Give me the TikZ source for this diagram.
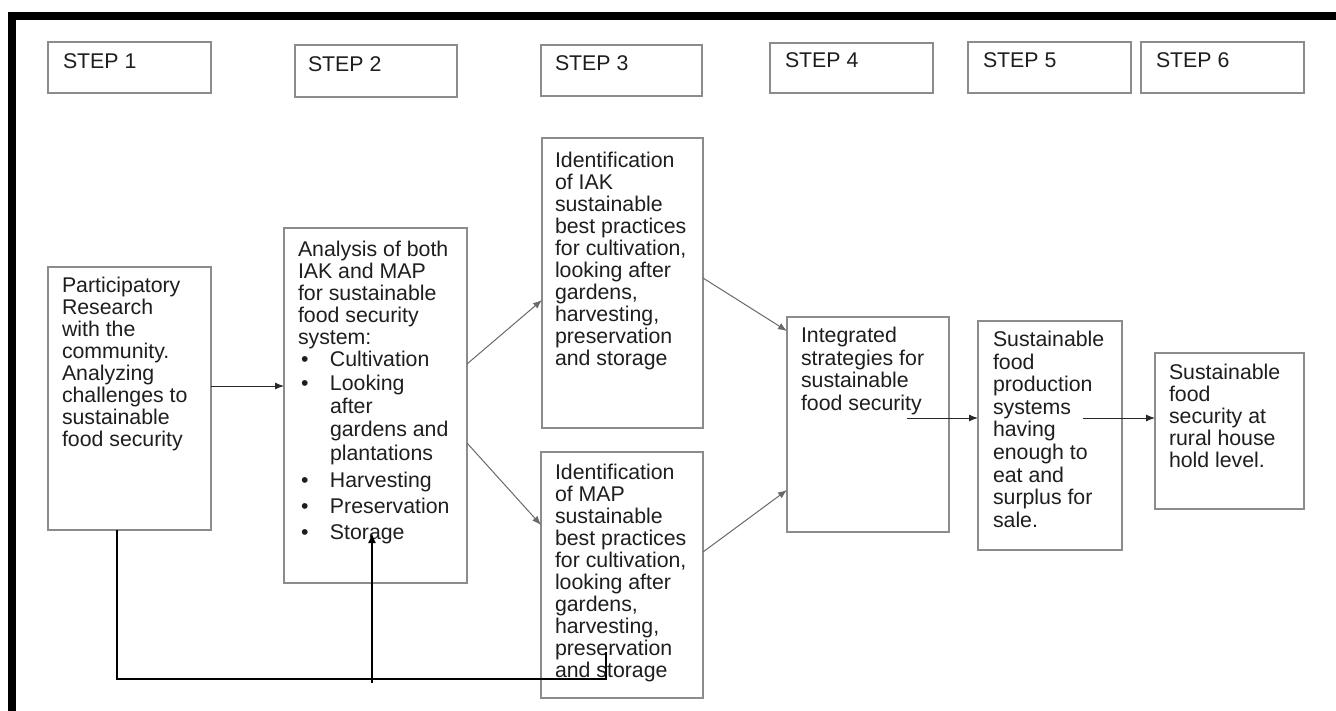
\documentclass[tikz,border=0pt]{standalone}
\usepackage{fontspec}
\setmainfont{Liberation Sans}
\usetikzlibrary{arrows.meta}
\definecolor{boxgray}{RGB}{140,140,140}
\definecolor{txtc}{RGB}{30,30,30}
\definecolor{diagc}{RGB}{105,105,105}
\definecolor{arrc}{RGB}{40,40,40}
\tikzset{
  box/.style={draw=boxgray,line width=1.6pt,anchor=north west,inner sep=0pt,outer sep=0pt},
  txt/.style={anchor=north west,inner sep=0pt,outer sep=0pt,align=left,text=txtc,
    font=\fontsize{21.3}{22}\selectfont},
  txtw/.style={txt,font=\fontsize{21.3}{22.6}\selectfont},
  steptxt/.style={anchor=north west,inner sep=0pt,outer sep=0pt,text=txtc,
    font=\fontsize{21.3}{22}\selectfont},
  arr/.style={draw=arrc,line width=1pt,-{Latex[length=9pt,width=7pt]}},
  diagarr/.style={draw=diagc,line width=1pt,-{Latex[length=9pt,width=7pt]}},
  fb/.style={draw=black,line width=2.4pt},
}
\newcommand{\bul}{\makebox[32pt][l]{\hspace*{3pt}\textbullet}}
\newcommand{\ind}{\makebox[32pt][l]{}}
\begin{document}
\begin{tikzpicture}[x=1pt,y=-1pt]
\useasboundingbox (0,0) rectangle (1336,711);
\fill[white] (0,0) rectangle (1336,711);
% thick frame
\fill[black] (8,12) rectangle (1336,20);
\fill[black] (8,12) rectangle (16,711);

% step boxes
\node[box,minimum width=163pt,minimum height=51pt] (s1) at (48,42) {};
\node[box,minimum width=162pt,minimum height=52pt] (s2) at (295,45) {};
\node[box,minimum width=161pt,minimum height=51pt] (s3) at (541,45) {};
\node[box,minimum width=163pt,minimum height=50pt] (s4) at (770,43) {};
\node[box,minimum width=163pt,minimum height=51pt] (s5) at (968,42) {};
\node[box,minimum width=163pt,minimum height=51pt] (s6) at (1141,42) {};
\node[steptxt] (st1) at (63,54) {STEP 1};
\node[steptxt] (st2) at (308,57) {STEP 2};
\node[steptxt] (st3) at (555,56) {STEP 3};
\node[steptxt] (st4) at (785,53) {STEP 4};
\node[steptxt] (st5) at (983,53) {STEP 5};
\node[steptxt] (st6) at (1156,53) {STEP 6};

% main boxes
\node[box,minimum width=163pt,minimum height=263pt] (b1) at (48,267) {};
\node[box,minimum width=183pt,minimum height=355pt] (b2) at (284,228) {};
\node[box,minimum width=161pt,minimum height=290pt] (b3a) at (542,138) {};
\node[box,minimum width=162pt,minimum height=246pt] (b3b) at (541,452) {};
\node[box,minimum width=162pt,minimum height=215pt] (b4) at (787,317) {};
\node[box,minimum width=144pt,minimum height=229pt] (b5) at (978,321) {};
\node[box,minimum width=149pt,minimum height=156pt] (b6) at (1155,353) {};

\node[txt] (t1) at (62,277) {Participatory\\Research\\with the\\community.\\Analyzing\\challenges to\\sustainable\\food security};
\node[txt] (t2) at (298,241) {Analysis of both\\IAK and MAP\\for sustainable\\food security\\system:\\
\bul Cultivation\\[2pt]
\bul Looking\\[1pt]
\ind after\\[1pt]
\ind gardens and\\[2pt]
\ind plantations\\[5pt]
\bul Harvesting\\[4pt]
\bul Preservation\\[4pt]
\bul Storage};
\node[txt] (t3a) at (555,152) {Identification\\of IAK\\sustainable\\best practices\\for cultivation,\\looking after\\gardens,\\harvesting,\\preservation\\and storage};
\node[txt] (t3b) at (555,464) {Identification\\of MAP\\sustainable\\best practices\\for cultivation,\\looking after\\gardens,\\harvesting,\\preservation\\and storage};
\node[txtw] (t4) at (801,327) {Integrated\\strategies for\\sustainable\\food security};
\node[txtw] (t5) at (993,331) {Sustainable\\food\\production\\systems\\having\\enough to\\eat and\\surplus for\\sale.};
\node[txt] (t6) at (1169,364) {Sustainable\\food\\security at\\rural house\\hold level.};

% connectors
\draw[arr] ([yshift=12.5pt]b1.east) -- ([yshift=12.5pt]b1.east -| b2.west);
\draw[diagarr] ([yshift=-136pt]b2.north east) -- ([yshift=-162pt]b3a.north west);
\draw[diagarr] ([yshift=-215pt]b2.north east) -- ([yshift=-73pt]b3b.north west);
\draw[diagarr] ([yshift=-140pt]b3a.north east) -- ([yshift=-14pt]b4.north west);
\draw[diagarr] ([yshift=-100pt]b3b.north east) -- ([yshift=-173pt]b4.north west);
\draw[arr] ([shift={(120pt,-101pt)}]b4.north west) -- ([yshift=-97pt]b5.north west);
\draw[arr] ([shift={(105pt,-97pt)}]b5.north west) -- ([yshift=-65pt]b6.north west);

% feedback loop
\coordinate (fbR) at (606,679);
\coordinate (fbT) at (606,652);
\coordinate (fbM) at (372,683);
\coordinate (fbA) at (372,533);
\draw[fb] ([xshift=-12.5pt]b1.south) |- (fbR) -- (fbT);
\draw[draw=black,line width=2pt,-{Latex[length=10pt,width=8pt]}] (fbM) -- (fbA);
\end{tikzpicture}
\end{document}
